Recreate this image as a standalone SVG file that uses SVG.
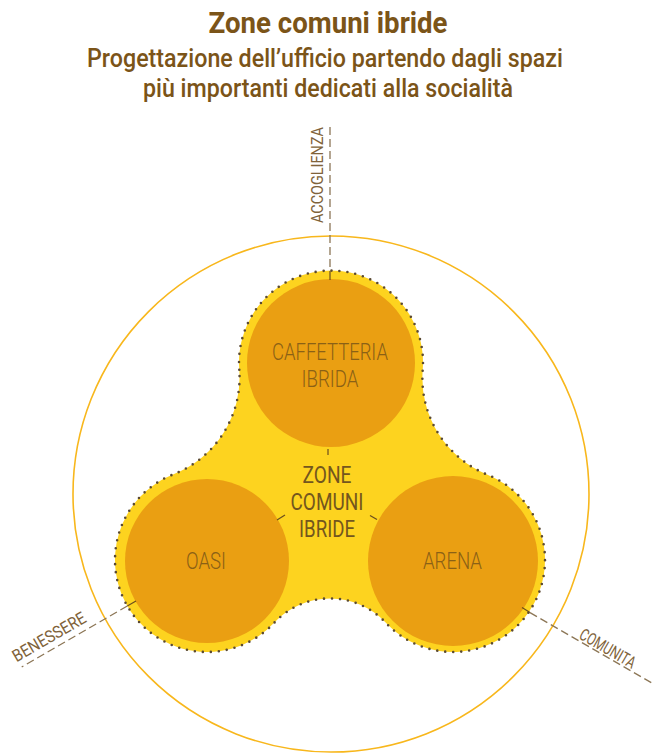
<svg xmlns="http://www.w3.org/2000/svg" width="652" height="753" viewBox="0 0 652 753">
  <style>
    text { font-family: Roboto, "Liberation Sans", sans-serif; }
    .title { font-size: 29px; font-weight: 700; fill: #7B5418; }
    .sub { font-size: 25px; font-weight: 500; fill: #7B5418; }
    .zone { font-size: 23px; font-weight: 300; fill: #8A6116; }
    .center { font-size: 23px; font-weight: 400; fill: #73561E; }
    .axislbl { font-size: 17px; font-weight: 400; fill: #80633A; }
    .dash { stroke: #8C7656; stroke-width: 1.3; stroke-dasharray: 8 4; fill: none; }
    .tick { stroke: #6B4E1E; stroke-width: 1.2; fill: none; }
  </style>
  <rect width="652" height="753" fill="#FFFFFF"/>
  <g id="titles">
    <text class="title" x="328" y="33" text-anchor="middle" textLength="239" lengthAdjust="spacingAndGlyphs">Zone comuni ibride</text>
    <text class="sub" x="325" y="67" text-anchor="middle" textLength="476" lengthAdjust="spacingAndGlyphs">Progettazione dell’ufficio partendo dagli spazi</text>
    <text class="sub" x="328" y="97" text-anchor="middle" textLength="370" lengthAdjust="spacingAndGlyphs">più importanti dedicati alla socialità</text>
  </g>
  <g id="outer-circle">
    <circle cx="331" cy="494" r="258" fill="none" stroke="#F8B71C" stroke-width="1.6"/>
  </g>
  <g id="zone-comuni-ibride">
    <path d="M 239.3 369.8 A 92 92 0 1 1 422.7 370.2 A 104 104 0 0 0 487.5 474.7 A 92 92 0 1 1 385.6 622.6 A 76 76 0 0 0 274.4 622.6 A 92 92 0 1 1 173.5 474.3 A 104 104 0 0 0 239.3 369.8 Z" fill="#FDD31F" stroke="#5B4A32" stroke-width="2.6" stroke-linecap="round" stroke-dasharray="0 8"/>
    <text class="center" x="327" y="483" text-anchor="middle" textLength="49" lengthAdjust="spacingAndGlyphs">ZONE</text>
    <text class="center" x="327" y="510" text-anchor="middle" textLength="73" lengthAdjust="spacingAndGlyphs">COMUNI</text>
    <text class="center" x="327" y="537" text-anchor="middle" textLength="56" lengthAdjust="spacingAndGlyphs">IBRIDE</text>
  </g>
  <g id="caffetteria">
    <circle cx="331" cy="363" r="84" fill="#EA9F12"/>
    <text class="zone" x="330" y="360" text-anchor="middle" textLength="116" lengthAdjust="spacingAndGlyphs">CAFFETTERIA</text>
    <text class="zone" x="330" y="387" text-anchor="middle" textLength="57" lengthAdjust="spacingAndGlyphs">IBRIDA</text>
  </g>
  <g id="oasi">
    <circle cx="207" cy="561" r="82" fill="#EA9F12"/>
    <text class="zone" x="206" y="569" text-anchor="middle" textLength="40" lengthAdjust="spacingAndGlyphs">OASI</text>
  </g>
  <g id="arena">
    <circle cx="453" cy="561" r="85" fill="#EA9F12"/>
    <text class="zone" x="452.5" y="569" text-anchor="middle" textLength="59" lengthAdjust="spacingAndGlyphs">ARENA</text>
  </g>
  <g id="connectors">
    <path class="dash" d="M330 127 V271"/>
    <path class="tick" d="M330 271 V280"/>
    <path class="dash" d="M127.3 606 L21.7 667"/>
    <path class="tick" d="M136 601 L127.3 606"/>
    <path class="dash" d="M530 612.6 L652 683"/>
    <path class="tick" d="M522 607.5 L530 612.6"/>
    <path class="tick" d="M328 449 V455"/>
    <path class="tick" d="M277 520 L285 515"/>
    <path class="tick" d="M370 515.5 L377 519.5"/>
  </g>
  <g id="axis-labels">
    <text class="axislbl" transform="translate(323 175) rotate(-90)" text-anchor="middle" textLength="96" lengthAdjust="spacingAndGlyphs">ACCOGLIENZA</text>
    <text class="axislbl" transform="translate(52 642) rotate(-30)" text-anchor="middle" textLength="82" lengthAdjust="spacingAndGlyphs">BENESSERE</text>
    <text class="axislbl" transform="translate(578 638) rotate(30)" text-anchor="start" textLength="62" lengthAdjust="spacingAndGlyphs">COMUNITA</text>
  </g>
</svg>
